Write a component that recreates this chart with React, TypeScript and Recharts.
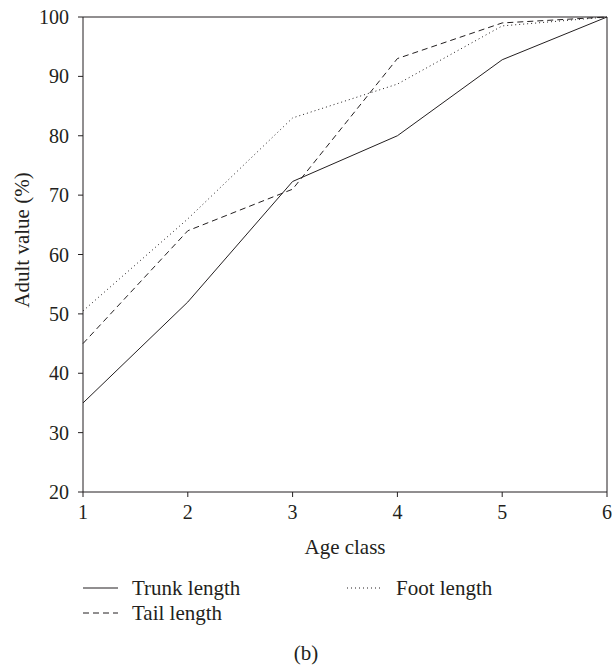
import React from 'react';
import { LineChart, Line, XAxis, YAxis, ReferenceLine } from 'recharts';

const ageClass = [1, 2, 3, 4, 5, 6];
const trunkLength = [35, 52, 72.3, 80, 92.8, 100];
const tailLength = [45, 64, 71, 93, 99, 100];
const footLength = [50.5, 66, 83, 88.7, 98.5, 100];
const yTicks = [20, 30, 40, 50, 60, 70, 80, 90, 100];

const INK = '#231f20';
const FONT = '"Liberation Serif", "DejaVu Serif", serif';

const series = [
  { key: 'trunk', name: 'Trunk length', dash: undefined as string | undefined },
  { key: 'tail', name: 'Tail length', dash: '6 4' },
  { key: 'foot', name: 'Foot length', dash: '1 3' },
];

const data = ageClass.map((age, i) => ({
  age,
  trunk: trunkLength[i],
  tail: tailLength[i],
  foot: footLength[i],
}));

const tickStyle = { fill: INK, fontSize: 20, fontFamily: FONT };

// legend laid out in two columns like the original figure
const legendPos = [
  { x: 83, y: 588 },
  { x: 83, y: 613 },
  { x: 347, y: 588 },
];

const App: React.FC = () => {
  return (
    <div style={{ position: 'fixed', left: 0, top: 0, width: 612, height: 665, background: '#fff' }}>
      <LineChart width={612} height={560} data={data} margin={{ top: 17, right: 5, left: 0, bottom: 0 }}>
        <XAxis
          dataKey="age"
          type="number"
          domain={[1, 6]}
          ticks={ageClass}
          stroke={INK}
          tickSize={5}
          tickMargin={8}
          height={68}
          tick={tickStyle}
          label={{ value: 'Age class', position: 'insideBottom', offset: 6, fill: INK, fontSize: 21, fontFamily: FONT }}
        />
        <YAxis
          type="number"
          domain={[20, 100]}
          ticks={yTicks}
          stroke={INK}
          tickSize={5}
          tickMargin={9}
          width={83}
          tick={tickStyle}
          label={() => (
            <text
              x={22}
              y={240}
              transform="rotate(-90 22 240)"
              textAnchor="middle"
              dominantBaseline="central"
              fill={INK}
              fontSize={21}
              fontFamily={FONT}
            >
              Adult value (%)
            </text>
          )}
        />
        <ReferenceLine y={100} stroke={INK} />
        <ReferenceLine x={6} stroke={INK} />
        {series.map((s) => (
          <Line
            key={s.key}
            type="linear"
            dataKey={s.key}
            name={s.name}
            stroke={INK}
            strokeWidth={1}
            strokeDasharray={s.dash}
            dot={false}
            activeDot={false}
            isAnimationActive={false}
          />
        ))}
      </LineChart>
      <svg width={612} height={665} style={{ position: 'absolute', left: 0, top: 0, pointerEvents: 'none' }}>
        {series.map((s, i) => (
          <g key={s.key}>
            <line
              x1={legendPos[i].x}
              x2={legendPos[i].x + 35}
              y1={legendPos[i].y}
              y2={legendPos[i].y}
              stroke={INK}
              strokeWidth={1}
              strokeDasharray={s.dash}
            />
            <text
              x={legendPos[i].x + 49}
              y={legendPos[i].y}
              dominantBaseline="central"
              fill={INK}
              fontSize={21}
              fontFamily={FONT}
            >
              {s.name}
            </text>
          </g>
        ))}
        <text x={306} y={653} textAnchor="middle" dominantBaseline="central" fill={INK} fontSize={21} fontFamily={FONT}>
          (b)
        </text>
      </svg>
    </div>
  );
};

export default App;
